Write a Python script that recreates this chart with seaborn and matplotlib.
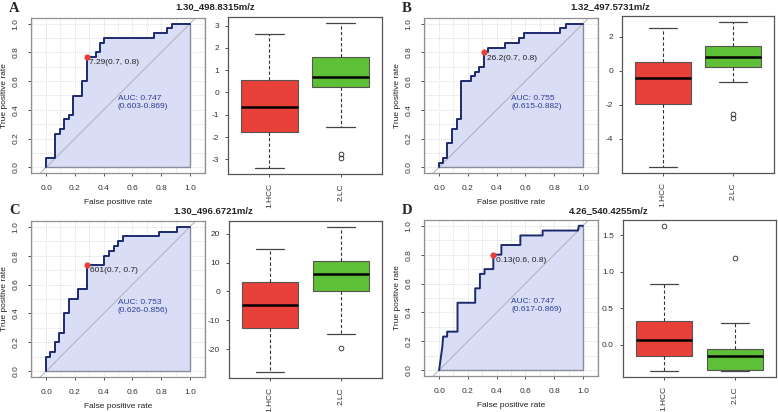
import numpy as np
import pandas as pd
import matplotlib
matplotlib.use("Agg")
import matplotlib.pyplot as plt
import seaborn as sns

# ---------------- data ----------------
titles = ["1.30_498.8315m/z", "1.32_497.5731m/z", "1.30_496.6721m/z", "4.26_540.4255m/z"]
letters = ["A", "B", "C", "D"]
groups = ["1.HCC", "2.LC"]

fpr_A = [0, 0, 0.0625, 0.0625, 0.094, 0.094, 0.125, 0.125, 0.156, 0.156, 0.1875, 0.1875, 0.25, 0.25,
         0.281, 0.281, 0.344, 0.344, 0.375, 0.375, 0.406, 0.406, 0.75, 0.75, 0.844, 0.844, 0.875, 0.875, 1.0]
tpr_A = [0, 0.067, 0.067, 0.233, 0.233, 0.267, 0.267, 0.333, 0.333, 0.367, 0.367, 0.5, 0.5, 0.6,
         0.6, 0.767, 0.767, 0.8, 0.8, 0.867, 0.867, 0.9, 0.9, 0.933, 0.933, 0.967, 0.967, 1.0, 1.0]

fpr_B = [0, 0, 0.026, 0.026, 0.058, 0.058, 0.09, 0.09, 0.123, 0.123, 0.153, 0.153, 0.22, 0.22, 0.247, 0.247,
         0.28, 0.28, 0.314, 0.314, 0.34, 0.34, 0.46, 0.46, 0.558, 0.558, 0.593, 0.593, 0.844, 0.844, 0.879, 0.879, 1.0]
tpr_B = [0, 0.033, 0.033, 0.067, 0.067, 0.167, 0.167, 0.267, 0.267, 0.333, 0.333, 0.6, 0.6, 0.633, 0.633, 0.667,
         0.667, 0.7, 0.7, 0.8, 0.8, 0.833, 0.833, 0.867, 0.867, 0.9, 0.9, 0.933, 0.933, 0.967, 0.967, 1.0, 1.0]

fpr_C = [0, 0, 0.03, 0.03, 0.06, 0.06, 0.093, 0.093, 0.123, 0.123, 0.158, 0.158, 0.223, 0.223, 0.285, 0.285,
         0.406, 0.406, 0.44, 0.44, 0.47, 0.47, 0.50, 0.50, 0.534, 0.534, 0.784, 0.784, 0.907, 0.907, 1.0]
tpr_C = [0, 0.1, 0.1, 0.133, 0.133, 0.2, 0.2, 0.267, 0.267, 0.4, 0.4, 0.5, 0.5, 0.567, 0.567, 0.733,
         0.733, 0.8, 0.8, 0.833, 0.833, 0.867, 0.867, 0.9, 0.9, 0.933, 0.933, 0.967, 0.967, 1.0, 1.0]

fpr_D = [0, 0.023, 0.028, 0.056, 0.056, 0.128, 0.128, 0.251, 0.251, 0.284, 0.284, 0.316, 0.316, 0.377,
         0.377, 0.433, 0.433, 0.565, 0.565, 0.72, 0.72, 0.965, 0.972, 1.0]
tpr_D = [0, 0.167, 0.233, 0.233, 0.267, 0.267, 0.467, 0.467, 0.567, 0.567, 0.667, 0.667, 0.7, 0.7,
         0.8, 0.8, 0.867, 0.867, 0.933, 0.933, 0.967, 0.967, 1.0, 1.0]

roc_fpr = [fpr_A, fpr_B, fpr_C, fpr_D]
roc_tpr = [tpr_A, tpr_B, tpr_C, tpr_D]

thr_x = [0.281, 0.314, 0.285, 0.377]
thr_y = [0.767, 0.8, 0.733, 0.8]
thr_labels = ["7.29(0.7, 0.8)", "26.2(0.7, 0.8)", "601(0.7, 0.7)", "0.13(0.6, 0.8)"]
auc_labels = ["AUC: 0.747\n(0.603-0.869)", "AUC: 0.755\n(0.615-0.882)",
              "AUC: 0.753\n(0.626-0.856)", "AUC: 0.747\n(0.617-0.869)"]

# box stats per panel: [HCC, LC] -> (whislo, q1, med, q3, whishi, fliers)
box_A = [(-3.40, -1.77, -0.67, 0.55, 2.62, []), (-1.53, 0.25, 0.69, 1.60, 3.13, [-2.75, -2.92])]
box_B = [(-5.66, -1.97, -0.43, 0.51, 2.50, []), (-0.64, 0.20, 0.78, 1.46, 2.87, [-2.54, -2.77])]
box_C = [(-28.0, -12.8, -4.6, 3.1, 14.8, []), (-14.7, 0.0, 6.0, 10.4, 22.4, [-19.7])]
box_D = [(-0.36, -0.16, 0.06, 0.326, 0.826, [1.63]), (-0.36, -0.353, -0.16, -0.06, 0.30, [1.19])]
boxes = [box_A, box_B, box_C, box_D]
box_yticks = [[-3, -2, -1, 0, 1, 2, 3], [-4, -2, 0, 2], [-20, -10, 0, 10, 20], [0.0, 0.5, 1.0, 1.5]]
box_ylims = [(-3.66, 3.39), (-6.0, 3.21), (-30.0, 24.4), (-0.445, 1.71)]
box_fmt = ["{:.0f}", "{:.0f}", "{:.0f}", "{:.1f}"]

# ---------------- style ----------------
sns.set_theme(style="white")
plt.rcParams['font.family'] = ['Liberation Sans', 'DejaVu Sans']
plt.rcParams['axes.linewidth'] = 0.8

W, H = 778, 412
fig = plt.figure(figsize=(W / 100, H / 100), dpi=100)

def add_ax(l, r, t, b):
    return fig.add_axes([l / W, 1 - b / H, (r - l) / W, (b - t) / H])

roc_pos = [(31, 205, 18, 173), (424, 598, 18, 173), (31, 205, 221, 377), (424, 598, 220, 376)]
box_pos = [(228, 382, 17, 174), (622, 774, 16, 173), (229, 382, 221, 378), (623, 776, 220, 377)]
title_pos = [(215, 7), (610, 7), (213, 211), (609, 211)]
letter_pos = [(9, 9), (402, 9), (9, 211), (402, 211)]

navy = "#1c2a6e"
fill_col = "#d6daf6"
red = "#e8413a"
green = "#5ec036"
fs = 6.0

for i in range(4):
    # ---------- ROC ----------
    ax = add_ax(*roc_pos[i])
    ax.set_xlim(-0.105, 1.105)
    ax.set_ylim(-0.04, 1.04)
    for g in np.arange(-0.1, 1.11, 0.1):
        ax.axvline(g, color="#cfcfcf", lw=0.6, ls=(0, (1, 1.5)), zorder=0)
        ax.axhline(g, color="#cfcfcf", lw=0.6, ls=(0, (1, 1.5)), zorder=0)
    df = pd.DataFrame({"fpr": roc_fpr[i], "tpr": roc_tpr[i]})
    ax.fill_between(df["fpr"], df["tpr"], 0, color=fill_col, alpha=0.9, zorder=1, lw=0)
    ax.plot([0, 1, 1], [0, 0, 1], color="#8a8a9a", lw=1.0, zorder=1.5)
    ax.plot([-0.2, 1.2], [-0.2, 1.2], color="#b0b0b8", lw=0.7, zorder=2)
    sns.lineplot(data=df, x="fpr", y="tpr", sort=False, estimator=None, ax=ax,
                 color=navy, lw=1.4, zorder=3)
    ax.scatter([thr_x[i]], [thr_y[i]], s=20, color="#e8413a", zorder=4, lw=0)
    ax.annotate(thr_labels[i], (thr_x[i], thr_y[i]), xytext=(2, -1.5), textcoords="offset points",
                ha="left", va="top", fontsize=6.0, color="#222222", zorder=5)
    ax.text(0.5, 0.5, auc_labels[i], ha="left", va="top", fontsize=6.0, color="#2e3f95",
            linespacing=1.15, zorder=5)
    ax.set_xticks(np.arange(0, 1.01, 0.2))
    ax.set_xticklabels([f"{v:.1f}" for v in np.arange(0, 1.01, 0.2)], fontsize=fs)
    ax.set_yticks(np.arange(0, 1.01, 0.2))
    ax.set_yticklabels([f"{v:.1f}" for v in np.arange(0, 1.01, 0.2)], fontsize=fs,
                       rotation=90, va="center")
    ax.tick_params(direction="out", length=2.5, width=0.6, pad=6, colors="#333333",
                   bottom=True, left=True)
    ax.set_xlabel("False positive rate", fontsize=6.0, labelpad=5, color="#222222")
    ax.set_ylabel("True positive rate", fontsize=6.0, labelpad=3, color="#222222")
    for s in ax.spines.values():
        s.set_color("#909090")
        s.set_linewidth(0.9)

    # ---------- Box ----------
    bx = add_ax(*box_pos[i])
    stats = []
    for j, (lo, q1, med, q3, hi, fl) in enumerate(boxes[i]):
        stats.append(dict(label=groups[j], whislo=lo, q1=q1, med=med, q3=q3, whishi=hi, fliers=fl))
    bp = bx.bxp(stats, positions=[1, 2], widths=0.8, capwidths=0.4, patch_artist=True,
                boxprops=dict(edgecolor="#555555", linewidth=0.8),
                medianprops=dict(color="black", linewidth=1.8),
                whiskerprops=dict(color="#333333", linewidth=0.8, linestyle=(0, (3, 2))),
                capprops=dict(color="#444444", linewidth=0.9),
                flierprops=dict(marker="o", markersize=3.4, markerfacecolor="none",
                                markeredgecolor="#222222", markeredgewidth=0.6))
    for patch, c in zip(bp["boxes"], [red, green]):
        patch.set_facecolor(c)
    bx.set_xlim(0.42, 2.58)
    bx.set_ylim(*box_ylims[i])
    bx.set_xticks([1, 2])
    bx.set_xticklabels(groups, rotation=90, fontsize=fs)
    bx.set_yticks(box_yticks[i])
    bx.set_yticklabels([box_fmt[i].format(v) for v in box_yticks[i]], fontsize=fs)
    bx.tick_params(direction="out", length=2.5, width=0.6, pad=4, colors="#333333",
                   bottom=True, left=True)
    for s in bx.spines.values():
        s.set_color("#555555")
        s.set_linewidth(0.9)

    fig.text(title_pos[i][0] / W, 1 - title_pos[i][1] / H, titles[i], ha="center", va="center",
             fontsize=6.8, fontweight="bold", color="#222222")
    fig.text(letter_pos[i][0] / W, 1 - letter_pos[i][1] / H, letters[i], ha="left", va="center",
             fontsize=10.5, fontweight="bold", family=["Liberation Serif", "DejaVu Serif"])

fig.savefig("out.png", dpi=100)
